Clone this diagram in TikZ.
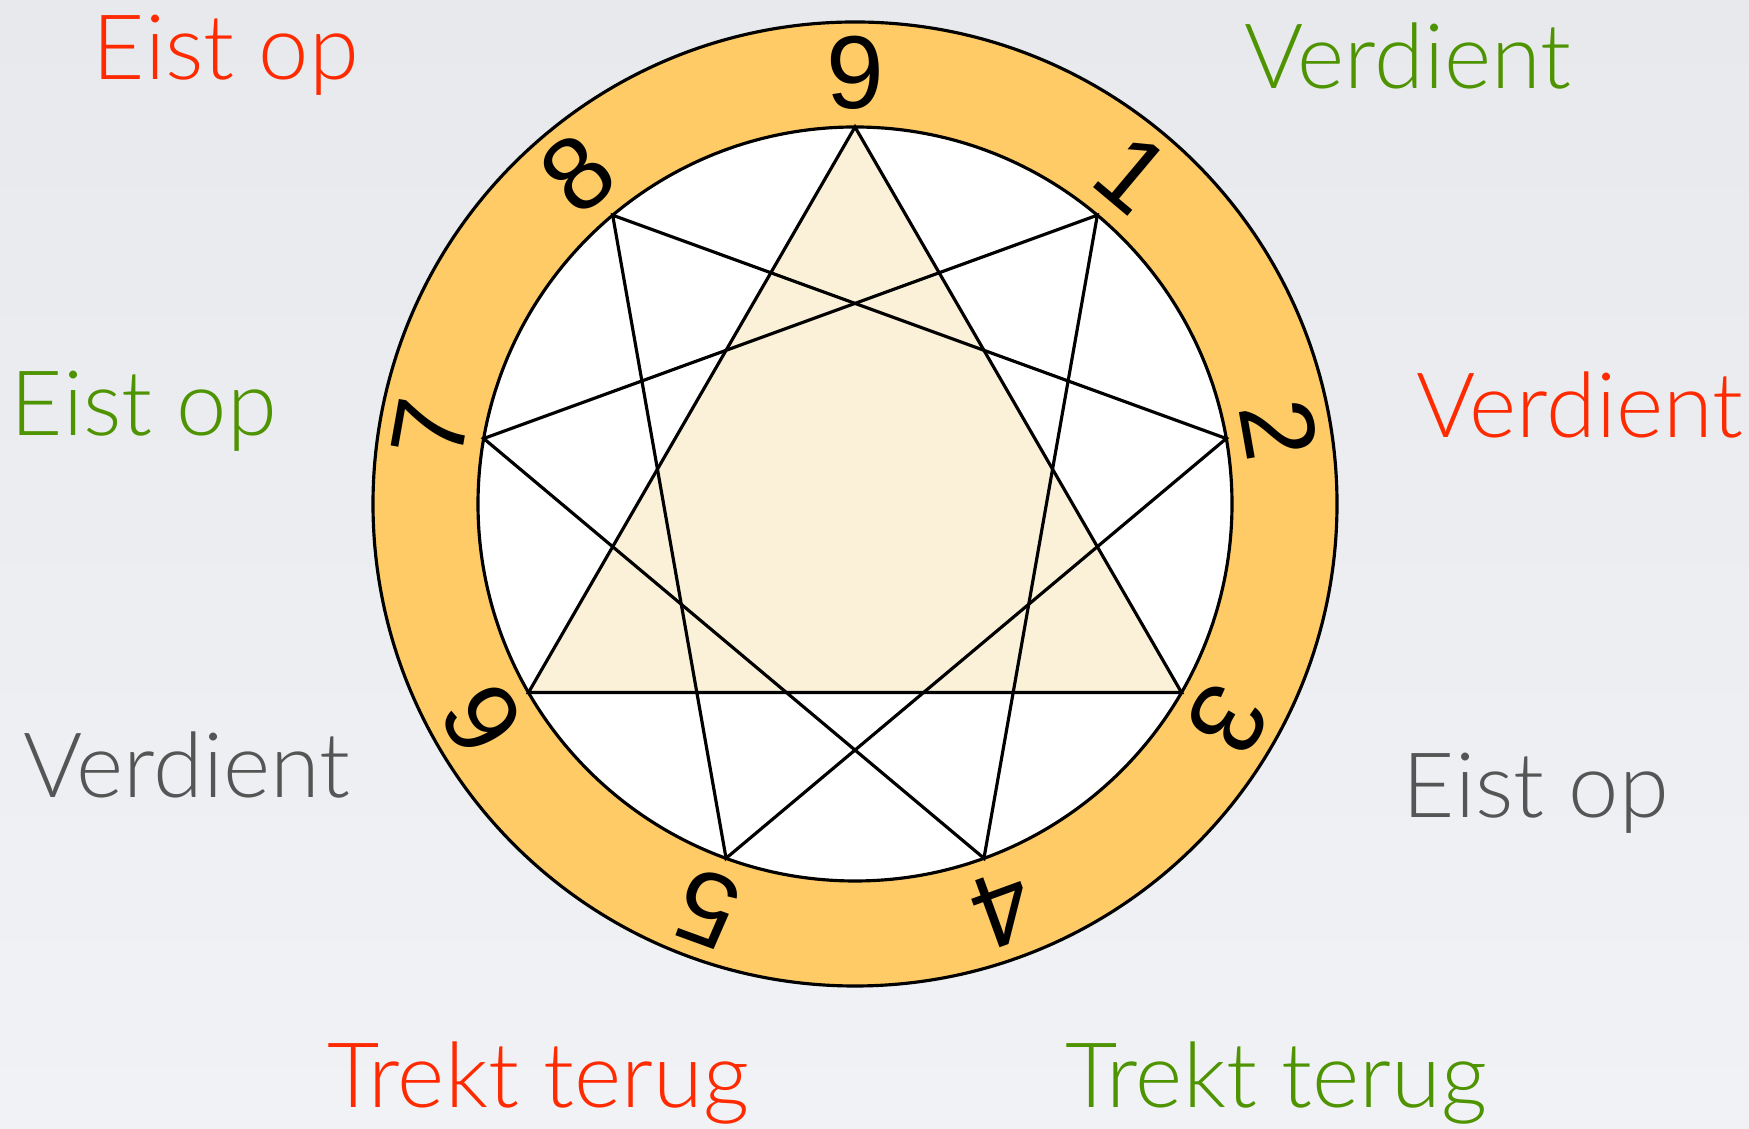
\documentclass[tikz,border=0pt]{standalone}
\usepackage{fontspec}
\setmainfont{Lato}[UprightFont={* Light}]
\newfontfamily\digitfont{Liberation Sans}
\usetikzlibrary{positioning}

\definecolor{ringorange}{HTML}{FECB66}
\definecolor{triacream}{HTML}{FBF1D9}
\definecolor{bgtop}{HTML}{E7E9ED}
\definecolor{bgbottom}{HTML}{F1F2F5}
\definecolor{wordred}{HTML}{FF2A00}
\definecolor{wordgreen}{HTML}{4E9300}
\definecolor{wordgray}{HTML}{555555}

\begin{document}
\begin{tikzpicture}[
    line width=0.9pt,
    word/.style={anchor=base, inner sep=0pt, font=\fontsize{25.7}{30}\selectfont},
    digit/.style={inner sep=0pt, font=\digitfont\fontsize{29.5}{32}\selectfont}
]
\shade[top color=bgtop, bottom color=bgbottom] (0,0) rectangle (17.49,11.29);
\useasboundingbox (0,0) rectangle (17.49,11.29);

\begin{scope}[shift={(8.55,6.25)}]
\coordinate (c) at (0,0);
\draw[fill=ringorange] (c) circle (4.82);
\draw[fill=white] (c) circle (3.77);

% points on the inner circle
\coordinate (p9) at (90:3.77);
\coordinate (p1) at (50:3.77);
\coordinate (p2) at (10:3.77);
\coordinate (p3) at (-30:3.77);
\coordinate (p4) at (-70:3.77);
\coordinate (p5) at (-110:3.77);
\coordinate (p6) at (-150:3.77);
\coordinate (p7) at (170:3.77);
\coordinate (p8) at (130:3.77);

% numbers in the ring
\node[digit, rotate=0]    (d9) at (90:4.31)   {9};
\node[digit, rotate=-40]  (d1) at (50:4.31)   {1};
\node[digit, rotate=-80]  (d2) at (10:4.31)   {2};
\node[digit, rotate=-120] (d3) at (-30:4.31)  {3};
\node[digit, rotate=-160] (d4) at (-70:4.31)  {4};
\node[digit, rotate=160]  (d5) at (-110:4.31) {5};
\node[digit, rotate=120]  (d6) at (-150:4.31) {6};
\node[digit, rotate=80]   (d7) at (170:4.31)  {7};
\node[digit, rotate=40]   (d8) at (130:4.31)  {8};

% three triangles
\fill[triacream] (p9) -- (p3) -- (p6) -- cycle;
\draw (p9) -- (p3) -- (p6) -- cycle;
\draw (p1) -- (p4) -- (p7) -- cycle;
\draw (p2) -- (p5) -- (p8) -- cycle;
\end{scope}

% words round the circle
\node[word, text=wordred]   (topleft)  at (2.26,10.49)  {Eist op};
\node[word, text=wordgreen] (topright) at (14.08,10.40) {Verdient};
\node[word, text=wordgreen] (midleft)  at (1.44,6.93)   {Eist op};
\node[word, text=wordred]   (midright) at (15.80,6.91)  {Verdient};
\node[word, text=wordgray]  (lowleft)  at (1.87,3.31)   {Verdient};
\node[word, text=wordgray]  (lowright) at (15.36,3.11)  {Eist op};
\node[word, text=wordred]   (botleft)  at (5.38,0.21)   {Trekt terug};
\node[word, text=wordgreen] (botright) at (12.76,0.21)  {Trekt terug};
\end{tikzpicture}
\end{document}
